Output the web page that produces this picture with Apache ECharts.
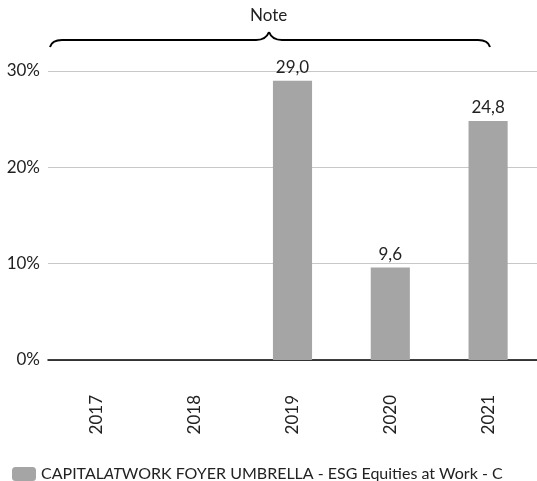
<!DOCTYPE html>
<html>
<head>
<meta charset="utf-8">
<script src="https://cdn.jsdelivr.net/npm/echarts@6/dist/echarts.min.js"></script>
<style>
html,body{margin:0;padding:0;background:#fff;}
#chart{width:537px;height:481px;}
</style>
</head>
<body>
<div id="chart"></div>
<script>
var years = ['2017', '2018', '2019', '2020', '2021'];
var values = [null, null, 29.0, 9.6, 24.8];
var yTicks = [0, 10, 20, 30];
var seriesName = 'CAPITALATWORK FOYER UMBRELLA - ESG Equities at Work - C';
var noteText = 'Note';

var myChart = echarts.init(document.getElementById('chart'));
var font = 'Lato, "Open Sans", sans-serif';

// morceaux de l'accolade au-dessus du graphique
var braceStyle = { stroke: '#000', lineWidth: 2, fill: null };
function curve(x1, y1, cx, cy, x2, y2) {
	return { type: 'bezierCurve', shape: { x1: x1, y1: y1, cpx1: cx, cpy1: cy, x2: x2, y2: y2 }, style: braceStyle };
}
function seg(x1, y1, x2, y2) {
	return { type: 'line', shape: { x1: x1, y1: y1, x2: x2, y2: y2 }, style: braceStyle };
}

var option = {
	backgroundColor: '#ffffff',
	animation: false,
	textStyle: { fontFamily: font },
	grid: { left: 48, right: 0, top: 71, bottom: 121 },
	graphic: [
		curve(50, 47, 52, 40, 62, 40),
		seg(62, 40, 256, 40),
		curve(256, 40, 266, 40, 269, 32),
		curve(269, 32, 272, 40, 282, 40),
		seg(282, 40, 478, 40),
		curve(478, 40, 488, 40, 490, 47),
		{
			type: 'text',
			left: 250, top: 7,
			style: { text: noteText, fill: '#222', fontSize: 17, fontFamily: font }
		}
	],
	legend: {
		left: 7, top: 461,
		itemWidth: 24, itemHeight: 14,
		itemGap: 6,
		textStyle: {
			color: '#222', fontSize: 16,
			rich: {
				n: { fontSize: 16, color: '#222', fontFamily: font },
				i: { fontSize: 16, color: '#222', fontFamily: font, fontStyle: 'italic' }
			}
		},
		formatter: function () {
			return '{n|CAPITAL}{i|AT}{n|WORK FOYER UMBRELLA - ESG Equities at Work - C}';
		},
		data: [seriesName]
	},
	xAxis: {
		type: 'category',
		data: years,
		axisLine: { lineStyle: { color: '#000', width: 1.5 } },
		axisTick: { show: false },
		axisLabel: { rotate: 90, margin: 35, color: '#222', fontSize: 17 }
	},
	yAxis: {
		type: 'value',
		min: yTicks[0], max: yTicks[yTicks.length - 1], interval: 10,
		axisLine: { show: false },
		axisTick: { show: false },
		splitLine: { lineStyle: { color: '#c8c8c8' } },
		axisLabel: { formatter: '{value}%', color: '#222', fontSize: 17, margin: 8 }
	},
	series: [{
		name: seriesName,
		type: 'bar',
		data: values,
		barWidth: '40%',
		itemStyle: { color: '#a5a5a5' },
		label: {
			show: true,
			position: 'top',
			distance: 5,
			color: '#222',
			fontSize: 17,
			formatter: function (p) { return p.value == null ? '' : p.value.toFixed(1).replace('.', ','); }
		}
	}]
};
myChart.setOption(option);
</script>
</body>
</html>
